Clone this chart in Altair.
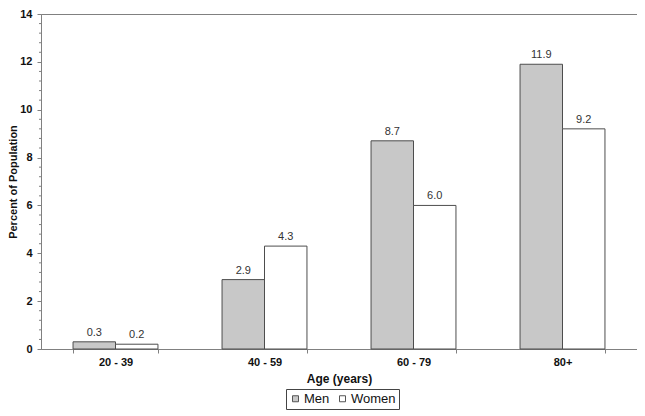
import altair as alt
import pandas as pd

ages = ["20 - 39", "40 - 59", "60 - 79", "80+"]
men = [0.3, 2.9, 8.7, 11.9]
women = [0.2, 4.3, 6.0, 9.2]
minor_ticks = [v / 10 for v in range(4, 140, 4) if v % 20 != 0]

rows = []
for a, m, w in zip(ages, men, women):
    rows.append({"age": a, "sex": "Men", "pct": m, "label": f"{m:.1f}"})
    rows.append({"age": a, "sex": "Women", "pct": w, "label": f"{w:.1f}"})
df = pd.DataFrame(rows)
minor_df = pd.DataFrame({"v": minor_ticks})

FONT = "Liberation Sans"
AX = "#808080"

xscale = alt.Scale(domain=ages, paddingInner=0.43, paddingOuter=0.215)
yscale = alt.Scale(domain=[0, 14])

bars = alt.Chart(df).mark_bar(stroke="#4d4d4d", strokeWidth=1).encode(
    x=alt.X("age:N", scale=xscale, sort=ages,
            axis=alt.Axis(title="Age (years)", labelAngle=0, tickBand="extent",
                          labelFont=FONT, labelFontSize=11, labelFontWeight="bold",
                          labelColor="#111", titleFont=FONT, titleFontSize=12,
                          titleFontWeight="bold", titleColor="#111",
                          domainColor=AX, tickColor=AX, tickSize=4,
                          labelPadding=3, titlePadding=6)),
    xOffset=alt.XOffset("sex:N", sort=["Men", "Women"]),
    y=alt.Y("pct:Q", scale=yscale,
            axis=alt.Axis(title="Percent of Population", values=list(range(0, 15, 2)),
                          labelFont=FONT, labelFontSize=11, labelFontWeight="bold",
                          labelColor="#111", titleFont=FONT, titleFontSize=11,
                          titleFontWeight="bold", titleColor="#111",
                          domainColor=AX, tickColor=AX, tickSize=4,
                          labelPadding=5, titlePadding=1, grid=False)),
    fill=alt.Fill("sex:N", scale=alt.Scale(domain=["Men", "Women"], range=["#c8c8c8", "#ffffff"]),
                  legend=alt.Legend(title=None, orient="none", legendX=245, legendY=375,
                                    direction="horizontal",
                                    symbolType="square", symbolSize=36,
                                    symbolStrokeColor="#555", symbolStrokeWidth=1,
                                    labelFont=FONT, labelFontSize=13, labelColor="#111",
                                    strokeColor="#444", padding=3, columnPadding=6,
                                    labelOffset=2)),
)

labels = alt.Chart(df).mark_text(dy=-9, font=FONT, fontSize=11, color="#333").encode(
    x=alt.X("age:N", scale=xscale, sort=ages),
    xOffset=alt.XOffset("sex:N", sort=["Men", "Women"]),
    y=alt.Y("pct:Q", scale=yscale),
    text="label:N",
)

minor = alt.Chart(minor_df).mark_rule(color=AX).encode(
    y=alt.Y("v:Q", scale=yscale),
    x=alt.value(-2),
    x2=alt.value(0),
)

chart = alt.layer(bars, labels, minor).properties(
    width=596, height=335,
    autosize=alt.AutoSizeParams(type="none"),
    padding={"left": 33, "top": 6, "right": 0, "bottom": 66},
).configure_view(stroke=AX, strokeWidth=1)

chart.save("out.html", embed_options={"renderer": "svg", "actions": False})
